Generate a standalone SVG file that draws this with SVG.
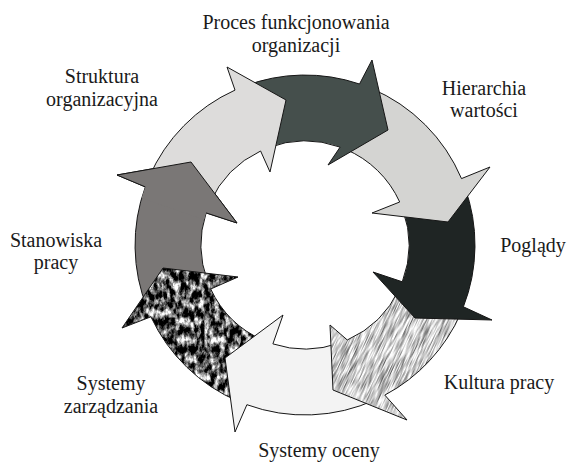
<svg xmlns="http://www.w3.org/2000/svg" width="568" height="462" viewBox="0 0 568 462">
<defs>
<style>
text{font-family:'Liberation Serif','Times New Roman',serif;font-size:20px;fill:#1a1a1a;text-anchor:middle}
.edge{fill:none;stroke:#161616;stroke-width:1;stroke-linejoin:miter}
</style>
<path id="p1" d="M 210.0,202.7 L 149.1,177.2 A 170 170 0 0 1 235.0,90.1 L 227,67 L 286,100 L 270,172 L 260.6,151.0 A 104 104 0 0 0 210.0,202.7 Z"/>
<path id="p2" d="M 267.7,147.9 L 244.1,86.3 A 170 170 0 0 1 359.5,84.0 L 372,60 L 388,130 L 328,165 L 340.1,147.1 A 104 104 0 0 0 267.7,147.9 Z"/>
<path id="p3" d="M 345.6,149.3 L 371.4,88.5 A 170 170 0 0 1 461.5,178.6 L 490,167 L 448,222 L 372,213 L 399.7,202.0 A 104 104 0 0 0 345.6,149.3 Z"/>
<path id="p4" d="M 402.7,209.4 L 464.7,186.9 A 170 170 0 0 1 463.4,306.8 L 492,320 L 415,318 L 373,272 L 402.3,281.8 A 104 104 0 0 0 402.7,209.4 Z"/>
<path id="p5" d="M 399.3,289.0 L 460.9,312.8 A 170 170 0 0 1 384.8,395.1 L 407,420 L 333,390 L 330,325 L 347.3,340.0 A 104 104 0 0 0 399.3,289.0 Z"/>
<path id="p6" d="M 339.7,343.0 L 375.5,399.7 A 170 170 0 0 1 246.9,404.7 L 235,432 L 225,358 L 283,315 L 272.9,343.9 A 104 104 0 0 0 339.7,343.0 Z"/>
<path id="p7" d="M 263.5,340.4 L 238.6,401.5 A 170 170 0 0 1 150.9,316.8 L 122,328 L 163,268 L 238,277 L 210.7,289.0 A 104 104 0 0 0 263.5,340.4 Z"/>
<path id="p8" d="M 207.6,281.4 L 147.4,308.7 A 170 170 0 0 1 145.3,186.9 L 117,175 L 191,162 L 237,223 L 206.1,212.9 A 104 104 0 0 0 207.6,281.4 Z"/>
<filter id="granite" color-interpolation-filters="sRGB">
<feTurbulence type="fractalNoise" baseFrequency="0.2 0.11" numOctaves="6" seed="11" result="n"/>
<feColorMatrix in="n" type="matrix" values="2.6 0 0 0 -0.95  2.6 0 0 0 -0.95  2.6 0 0 0 -0.95  0 0 0 0 1" result="g"/>
<feComposite in="g" in2="SourceGraphic" operator="in"/>
</filter>
<filter id="hatch" color-interpolation-filters="sRGB">
<feTurbulence type="fractalNoise" baseFrequency="1.4 0.06" numOctaves="2" seed="3" result="n"/>
<feColorMatrix in="n" type="matrix" values="1.4 0 0 0 0.1  1.4 0 0 0 0.1  1.4 0 0 0 0.1  0 0 0 0 1" result="g"/>
<feComposite in="g" in2="SourceGraphic" operator="in"/>
</filter>
</defs>

<g id="n-stanowiska">
<use href="#p8" class="edge" style="fill:#7a7776"/>
<text x="56" y="247">Stanowiska</text>
<text x="56" y="269">pracy</text>
</g>

<g id="n-zarzadzania">
<use href="#p7" fill="#000" filter="url(#granite)"/>
<use href="#p7" class="edge"/>
<text x="111" y="390">Systemy</text>
<text x="111" y="413">zarządzania</text>
</g>

<g id="n-oceny">
<use href="#p6" class="edge" style="fill:#f3f3f3"/>
<text x="319" y="457">Systemy oceny</text>
</g>

<g id="n-kultura">
<g transform="rotate(25 370 350)" filter="url(#hatch)">
<use href="#p5" transform="rotate(-25 370 350)" fill="#000"/>
</g>
<use href="#p5" class="edge"/>
<text x="499" y="389">Kultura pracy</text>
</g>

<g id="n-poglady">
<use href="#p4" class="edge" style="fill:#1f2524"/>
<text x="533" y="252">Poglądy</text>
</g>

<g id="n-hierarchia">
<use href="#p3" class="edge" style="fill:#d4d4d2"/>
<text x="484" y="95">Hierarchia</text>
<text x="484" y="117">wartości</text>
</g>

<g id="n-proces">
<use href="#p2" class="edge" style="fill:#454f4c"/>
<text x="296" y="29">Proces funkcjonowania</text>
<text x="296" y="52">organizacji</text>
</g>

<g id="n-struktura">
<use href="#p1" class="edge" style="fill:#dddcdb"/>
<text x="102" y="83">Struktura</text>
<text x="102" y="106">organizacyjna</text>
</g>

<g id="n-stanowiska-head">
<path d="M 141.6,198.1 L 145.3,186.9 L 117,175 L 191,162 L 237,223 L 206.1,212.9 L 204.1,219.8 Z" fill="#7a7776"/>
<path d="M 145.3,186.9 L 117,175 L 191,162 L 237,223 L 206.1,212.9" class="edge"/>
</g>
</svg>
